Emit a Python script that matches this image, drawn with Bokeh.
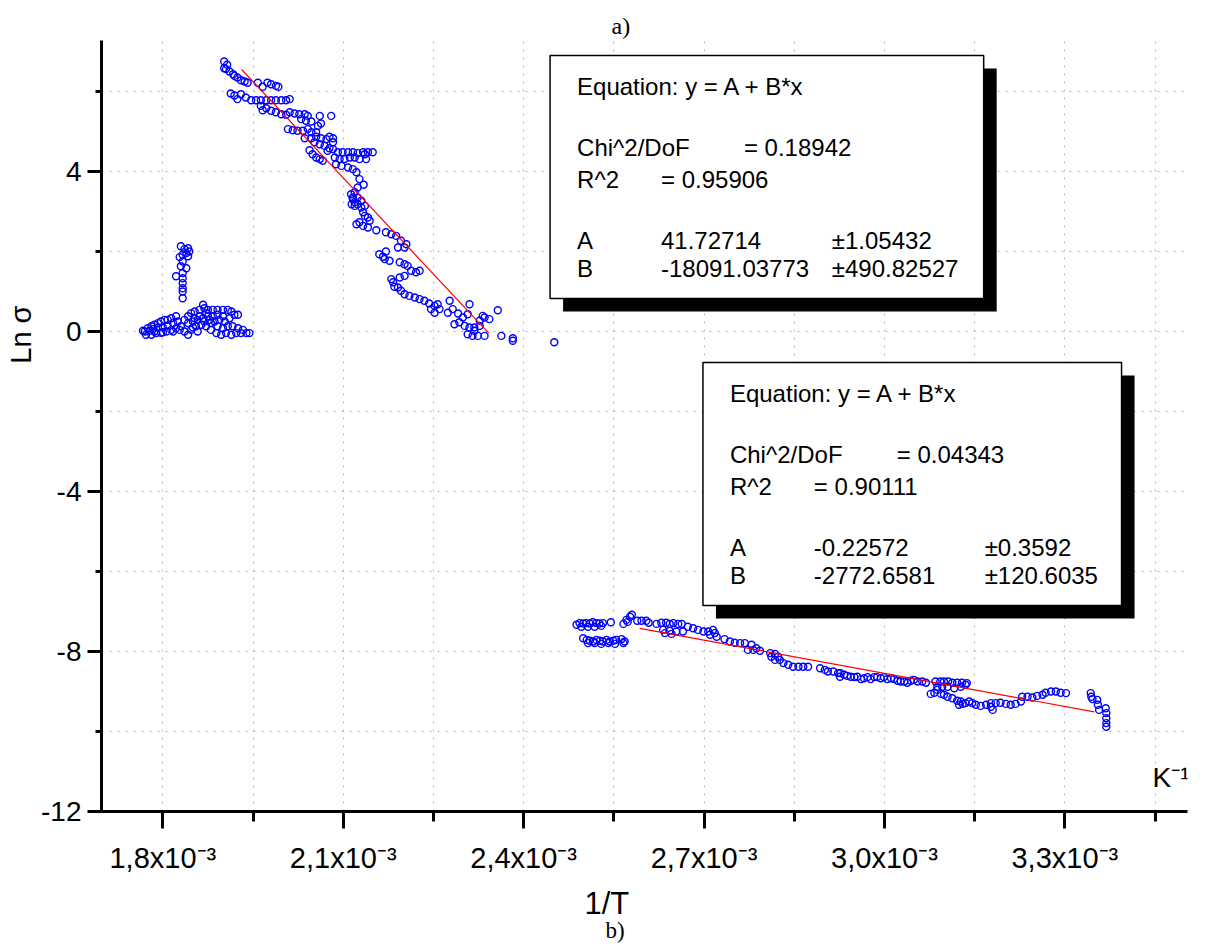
import numpy as np
from bokeh.plotting import figure
from bokeh.models import (Range1d, FixedTicker, CustomJSTickFormatter, Label,
                          BoxAnnotation, ColumnDataSource, Title)
from bokeh.embed import file_html
from bokeh.resources import INLINE

# ---------------- data (x in units of 10^-3 K^-1, y = ln sigma) ----------------
# high-temperature cluster near ln(sigma) ~ 0
cluster_x = [1.830, 1.836, 1.842, 1.844, 1.839, 1.833, 1.828, 1.842, 1.833, 1.830,
             1.839, 1.822, 1.833, 1.833, 1.833, 1.833, 1.833, 1.833,
             1.770, 1.775, 1.781, 1.786, 1.792, 1.797, 1.803, 1.808, 1.814, 1.822,
             1.772, 1.781, 1.789, 1.797, 1.806, 1.814, 1.822, 1.830,
             1.836, 1.842, 1.847, 1.853, 1.861, 1.867, 1.869, 1.875, 1.883, 1.891,
             1.900, 1.908, 1.914,
             1.842, 1.850, 1.858, 1.867, 1.875, 1.883, 1.891, 1.900,
             1.836, 1.842, 1.847, 1.855, 1.864, 1.872, 1.880, 1.889, 1.897, 1.905,
             1.914, 1.922, 1.930, 1.939, 1.944,
             1.891, 1.900, 1.908, 1.916, 1.925, 1.933,
             1.767, 1.778, 1.784, 1.792, 1.800, 1.808, 1.817, 1.825, 1.828, 1.817,
             1.800, 1.786, 1.850, 1.858, 1.861, 1.853, 1.872, 1.878, 1.886, 1.894,
             1.903, 1.911, 1.919, 1.925, 1.880, 1.869]
cluster_y = [2.13, 2.06, 2.08, 2.00, 1.96, 1.92, 1.86, 1.88, 1.75, 1.63,
             1.58, 1.38, 1.46, 1.33, 1.21, 1.08, 1.00, 0.83,
             0.00, 0.08, 0.13, 0.17, 0.21, 0.25, 0.29, 0.29, 0.33, 0.38,
             -0.08, -0.08, -0.04, -0.03, 0.00, 0.04, 0.08, 0.13,
             0.29, 0.38, 0.46, 0.50, 0.54, 0.67, 0.58, 0.54, 0.54, 0.54,
             0.54, 0.54, 0.50,
             0.21, 0.25, 0.29, 0.33, 0.38, 0.38, 0.42, 0.38,
             0.00, -0.08, 0.04, 0.13, 0.17, 0.13, 0.04, -0.04, -0.08, -0.04,
             -0.08, -0.04, -0.04, -0.04, -0.04,
             0.13, 0.08, 0.13, 0.13, 0.08, 0.04,
             0.02, 0.02, 0.06, 0.10, 0.10, 0.15, 0.21, 0.25, 0.04, 0.00,
             -0.02, 0.00, 0.10, 0.00, 0.38, 0.33, 0.46, 0.29, 0.25, 0.29,
             0.25, 0.33, 0.42, 0.42, 0.21, 0.25]

# intermediate-temperature branch (first linear fit)
upper_x = [1.902, 1.907, 1.902, 1.905, 1.911, 1.917, 1.919, 1.924, 1.930, 1.936, 1.941,
           1.958, 1.966, 1.974, 1.980, 1.988, 1.992,
           1.913, 1.919, 1.924, 1.930, 1.938, 1.947, 1.955, 1.963, 1.972, 1.980, 1.988,
           1.997, 2.005, 2.011,
           1.963, 1.966, 1.972, 1.980, 1.988, 1.997, 2.005,
           2.011, 2.019, 2.027, 2.036, 2.041, 2.030, 2.038, 2.047, 2.061, 2.080, 2.063, 2.058,
           2.008, 2.016, 2.024, 2.033, 2.041, 2.047, 2.055,
           2.036, 2.047, 2.055, 2.063, 2.072, 2.077, 2.083,
           2.052, 2.061, 2.069, 2.077, 2.083,
           2.044, 2.049, 2.055, 2.061, 2.066, 2.074, 2.083,
           2.091, 2.099, 2.108, 2.116, 2.124, 2.133, 2.141, 2.149,
           2.086, 2.094, 2.102, 2.111, 2.119, 2.127, 2.138, 2.136,
           2.088, 2.097, 2.108, 2.116, 2.122, 2.127, 2.134, 2.124,
           2.119, 2.116, 2.119, 2.124, 2.130, 2.136,
           2.113, 2.116, 2.114, 2.119, 2.124, 2.130, 2.133, 2.136, 2.141, 2.144,
           2.122, 2.127, 2.133, 2.141, 2.155, 2.171, 2.180, 2.188, 2.196, 2.205, 2.202, 2.191,
           2.160, 2.166, 2.171, 2.177, 2.169,
           2.194, 2.202, 2.207, 2.213, 2.221, 2.227, 2.202,
           2.180, 2.183, 2.185, 2.194, 2.191, 2.196, 2.202, 2.210, 2.219, 2.227, 2.235,
           2.243, 2.252, 2.257, 2.260, 2.252, 2.246,
           2.274, 2.282, 2.291, 2.299, 2.307, 2.310, 2.277,
           2.285, 2.293, 2.302, 2.310, 2.318, 2.327, 2.335, 2.343, 2.332, 2.327,
           2.307, 2.315, 2.324, 2.335, 2.318,
           2.357, 2.363, 2.382, 2.382, 2.451]
upper_y = [6.75, 6.67, 6.58, 6.56, 6.50, 6.43, 6.39, 6.35, 6.28, 6.25, 6.22,
           6.22, 6.12, 6.22, 6.18, 6.14, 6.12,
           5.95, 5.90, 5.81, 5.93, 5.85, 5.78, 5.78, 5.78, 5.78, 5.78, 5.78,
           5.78, 5.78, 5.81,
           5.64, 5.53, 5.58, 5.52, 5.48, 5.43, 5.42,
           5.48, 5.45, 5.43, 5.43, 5.39, 5.31, 5.27, 5.25, 5.39, 5.39, 5.20, 5.14,
           5.06, 5.03, 5.02, 5.02, 5.06, 4.98, 4.98,
           4.83, 4.83, 4.87, 4.83, 4.81, 4.87, 4.83,
           4.73, 4.68, 4.64, 4.58, 4.73,
           4.53, 4.43, 4.35, 4.31, 4.27, 4.52, 4.56,
           4.48, 4.48, 4.48, 4.48, 4.46, 4.48, 4.48, 4.48,
           4.35, 4.31, 4.31, 4.35, 4.35, 4.31, 4.31, 4.43,
           4.18, 4.14, 4.10, 4.06, 3.98, 3.81, 3.67, 3.60,
           3.48, 3.35, 3.23, 3.35, 3.27, 3.14,
           3.43, 3.31, 3.18, 3.14, 3.18, 3.10, 2.98, 2.89, 2.85, 2.77,
           2.68, 2.73, 2.64, 2.60, 2.53, 2.48, 2.43, 2.39, 2.27, 2.18, 2.10, 2.10,
           1.93, 1.87, 2.00, 1.77, 1.81,
           1.73, 1.68, 1.64, 1.52, 1.48, 1.52, 1.39,
           1.31, 1.23, 1.12, 1.35, 1.10, 1.02, 0.93, 0.89, 0.85, 0.81, 0.77,
           0.70, 0.64, 0.68, 0.56, 0.47, 0.56,
           0.47, 0.56, 0.45, 0.35, 0.43, 0.68, 0.77,
           0.18, 0.23, 0.14, 0.10, 0.10, 0.14, 0.35, 0.31, 0.39, 0.27,
           -0.07, -0.11, -0.11, -0.11, 0.02,
           0.53, -0.11, -0.17, -0.23, -0.27]

# low-temperature branch (second linear fit)
lower_x = [2.488, 2.493, 2.499, 2.504, 2.510, 2.515, 2.521, 2.526, 2.532, 2.545,
           2.496, 2.507, 2.518, 2.529,
           2.499, 2.505, 2.510, 2.516, 2.521, 2.527, 2.532, 2.538, 2.543, 2.549,
           2.554, 2.563, 2.568, 2.507, 2.518, 2.529, 2.541, 2.552, 2.566,
           2.566, 2.571, 2.577, 2.580, 2.573,
           2.589, 2.596, 2.604, 2.608,
           2.621, 2.629, 2.637, 2.643, 2.649, 2.657, 2.663, 2.632, 2.643, 2.654,
           2.665, 2.635, 2.646,
           2.673, 2.682, 2.690, 2.699, 2.707, 2.715, 2.718, 2.721, 2.710,
           2.734, 2.743, 2.751, 2.760, 2.768, 2.779, 2.787, 2.793, 2.782, 2.773,
           2.810, 2.818, 2.823, 2.826, 2.818, 2.812, 2.832, 2.840, 2.848, 2.857,
           2.865, 2.873,
           2.893, 2.901, 2.906, 2.915, 2.923, 2.926,
           2.927, 2.933, 2.938, 2.944, 2.950, 2.955, 2.961, 2.966, 2.972, 2.977,
           2.983, 2.988, 2.994, 2.999, 3.005, 3.011, 3.016, 3.022, 3.027, 3.033,
           3.038, 3.044, 3.049, 3.055, 3.063, 3.069,
           3.085, 3.093, 3.099, 3.106, 3.113, 3.121, 3.129, 3.137, 3.088, 3.096,
           3.105, 3.116, 3.127, 3.135,
           3.077, 3.083, 3.088, 3.094, 3.099, 3.105, 3.113, 3.121, 3.127, 3.124,
           3.130, 3.135, 3.141, 3.146, 3.152, 3.160, 3.169, 3.177, 3.180, 3.177,
           3.185, 3.193, 3.202, 3.210, 3.218, 3.227, 3.229, 3.238, 3.246, 3.254,
           3.263, 3.268, 3.277, 3.285, 3.293, 3.302,
           3.343, 3.344, 3.346, 3.354, 3.355, 3.357, 3.368, 3.369, 3.369, 3.369, 3.369]
lower_y = [-7.33, -7.29, -7.30, -7.29, -7.30, -7.27, -7.29, -7.30, -7.29, -7.27,
           -7.38, -7.38, -7.38, -7.36,
           -7.67, -7.71, -7.73, -7.75, -7.71, -7.73, -7.75, -7.71, -7.75, -7.73,
           -7.71, -7.69, -7.75, -7.79, -7.79, -7.81, -7.79, -7.81, -7.79,
           -7.31, -7.21, -7.13, -7.08, -7.26,
           -7.23, -7.23, -7.23, -7.28,
           -7.31, -7.28, -7.28, -7.31, -7.29, -7.31, -7.31, -7.46, -7.48, -7.50,
           -7.50, -7.54, -7.56,
           -7.38, -7.42, -7.46, -7.50, -7.50, -7.46, -7.54, -7.63, -7.58,
           -7.69, -7.75, -7.78, -7.79, -7.79, -7.83, -7.92, -7.98, -7.96, -7.96,
           -8.04, -8.06, -8.13, -8.21, -8.21, -8.13, -8.29, -8.33, -8.38, -8.38,
           -8.38, -8.38,
           -8.42, -8.46, -8.50, -8.50, -8.54, -8.63,
           -8.54, -8.58, -8.61, -8.63, -8.64, -8.63, -8.69, -8.67, -8.64, -8.69,
           -8.64, -8.64, -8.67, -8.64, -8.69, -8.67, -8.69, -8.73, -8.75, -8.75,
           -8.78, -8.73, -8.71, -8.75, -8.75, -8.78,
           -8.75, -8.75, -8.75, -8.75, -8.78, -8.78, -8.78, -8.79, -8.88, -8.88,
           -8.88, -8.92, -8.88, -8.83,
           -9.06, -9.03, -8.96, -9.06, -9.08, -9.13, -9.17, -9.23, -9.25, -9.33,
           -9.31, -9.29, -9.25, -9.29, -9.33, -9.36, -9.33, -9.29, -9.46, -9.38,
           -9.29, -9.28, -9.31, -9.33, -9.31, -9.25, -9.13, -9.13, -9.15, -9.11,
           -9.08, -9.03, -9.00, -9.00, -9.03, -9.04,
           -9.04, -9.13, -9.19, -9.21, -9.33, -9.46, -9.42, -9.54, -9.67, -9.79, -9.88]

# fitted lines as drawn
fit1_x = [1.931, 2.342]
fit1_y = [6.55, -0.04]
fit2_x = [2.593, 3.349]
fit2_y = [-7.42, -9.51]

x_major = [1.8, 2.1, 2.4, 2.7, 3.0, 3.3]
x_minor = [1.65, 1.95, 2.25, 2.55, 2.85, 3.15, 3.45]
y_major = [-12, -8, -4, 0, 4]
y_minor = [-10, -6, -2, 2, 6]

fit1_text = [("Equation: y = A + B*x", None, None),
             ("Chi^2/DoF", "= 0.18942", None),
             ("R^2", "=  0.95906", None),
             ("A", "41.72714", "±1.05432"),
             ("B", "-18091.03773", "±490.82527")]
fit2_text = [("Equation: y = A + B*x", None, None),
             ("Chi^2/DoF", "= 0.04343", None),
             ("R^2", "=  0.90111", None),
             ("A", "-0.22572", "±0.3592"),
             ("B", "-2772.6581", "±120.6035")]

# ---------------- figure ----------------
W, H = 1205, 944
X0, X1 = 1.698, 3.504
Y0, Y1 = -12.0, 7.275
FL, FT, FW, FH = 100.0, 40.0, 1087.0, 771.0   # frame in page pixels


def dx(px):
    return X0 + (px - FL) * (X1 - X0) / FW


def dy(py):
    return Y1 - (py - FT) * (Y1 - Y0) / FH


p = figure(width=W, height=H, output_backend="svg", toolbar_location=None,
           x_range=Range1d(X0, X1), y_range=Range1d(Y0, Y1),
           min_border_left=int(FL), min_border_right=int(W - FL - FW),
           min_border_top=int(FT), min_border_bottom=int(H - FT - FH))
p.outline_line_color = None
p.background_fill_color = "white"
p.border_fill_color = "white"

FONT = "Liberation Sans"

for ax in (p.xaxis[0], p.yaxis[0]):
    ax.axis_line_width = 3
    ax.axis_line_color = "black"
    ax.major_tick_line_width = 3
    ax.minor_tick_line_width = 3
    ax.major_tick_in = 0
    ax.minor_tick_in = 0
    ax.major_label_text_font = FONT
    ax.major_label_text_color = "black"

p.xaxis.ticker = FixedTicker(ticks=x_major, minor_ticks=x_minor)
p.xaxis.formatter = CustomJSTickFormatter(
    code="return tick.toFixed(1).replace('.', ',') + 'x10\u207b\u00b3';")
p.xaxis.major_tick_out = 17
p.xaxis.minor_tick_out = 10
p.xaxis.major_label_text_font_size = "29px"
p.xaxis.major_label_standoff = 13

p.yaxis.ticker = FixedTicker(ticks=y_major, minor_ticks=y_minor)
p.yaxis.formatter = CustomJSTickFormatter(code="return tick.toFixed(0);")
p.yaxis.major_tick_out = 14
p.yaxis.minor_tick_out = 6
p.yaxis.major_label_text_font_size = "28px"
p.yaxis.major_label_standoff = 6

for g in (p.xgrid[0], p.ygrid[0]):
    g.grid_line_color = "#b4b4b4"
    g.grid_line_dash = "2 6"
    g.grid_line_width = 1
    g.minor_grid_line_color = "#b4b4b4"
    g.minor_grid_line_dash = "2 6"
    g.minor_grid_line_width = 1

# data
for xs, ys in ((cluster_x, cluster_y), (upper_x, upper_y), (lower_x, lower_y)):
    src = ColumnDataSource(dict(x=xs, y=ys))
    p.scatter("x", "y", source=src, marker="circle", size=7,
              fill_color=None, line_color="#0000ff", line_width=1.4)

p.line(fit1_x, fit1_y, line_color="red", line_width=1.2)
p.line(fit2_x, fit2_y, line_color="red", line_width=1.2)


# fit-result boxes with drop shadow
def fit_box(left, top, right, bottom, rows):
    sh = 13
    p.add_layout(BoxAnnotation(left=dx(left + sh), right=dx(right + sh),
                               top=dy(top + sh), bottom=dy(bottom + sh),
                               fill_color="black", fill_alpha=1.0,
                               line_color=None))
    p.add_layout(BoxAnnotation(left=dx(left), right=dx(right),
                               top=dy(top), bottom=dy(bottom),
                               fill_color="white", fill_alpha=1.0,
                               line_color="black", line_width=1.5, line_alpha=1.0))
    offs = [31, 92, 124, 185, 213]
    for (a, b, c), oy in zip(rows, offs):
        yy = dy(top + oy)
        p.add_layout(Label(x=dx(left + 27), y=yy, text=a, text_font=FONT,
                           text_font_size="24px", text_baseline="middle",
                           text_color="black"))
        if b is not None:
            bx = left + (194 if b.startswith("= 0") else 111)
            p.add_layout(Label(x=dx(bx), y=yy, text=b, text_font=FONT,
                               text_font_size="24px", text_baseline="middle",
                               text_color="black"))
        if c is not None:
            p.add_layout(Label(x=dx(left + 282), y=yy, text=c, text_font=FONT,
                               text_font_size="24px", text_baseline="middle",
                               text_color="black"))


fit_box(549, 55, 983, 298, fit1_text)
fit_box(702, 362, 1121, 605, fit2_text)

# unit label inside the frame
p.add_layout(Label(x=dx(1152), y=dy(777), text="K\u207b\u00b9", text_font=FONT,
                   text_font_size="28px", text_align="left",
                   text_baseline="middle", text_color="black"))

# panel marker above, axis titles and marker below / left (as titles)
p.title.text = "a)"
p.title.align = "left"
p.title.offset = 510
p.title.standoff = 4
p.title.text_font = "Liberation Serif"
p.title.text_font_size = "24px"
p.title.text_font_style = "normal"
p.title.text_color = "black"

p.add_layout(Title(text="Ln σ", align="right", offset=265, standoff=4,
                   text_font=FONT, text_font_size="29px",
                   text_font_style="normal", text_color="black"), "left")
p.add_layout(Title(text="1/T", align="left", offset=483, standoff=14,
                   vertical_align="bottom", text_font=FONT, text_font_size="31px",
                   text_font_style="normal", text_color="black"), "below")
p.add_layout(Title(text="b)", align="left", offset=504, standoff=-20,
                   vertical_align="top", text_font="Liberation Serif",
                   text_font_size="23px", text_font_style="normal",
                   text_color="black"), "below")

open("out.html", "w").write(file_html(p, INLINE))
